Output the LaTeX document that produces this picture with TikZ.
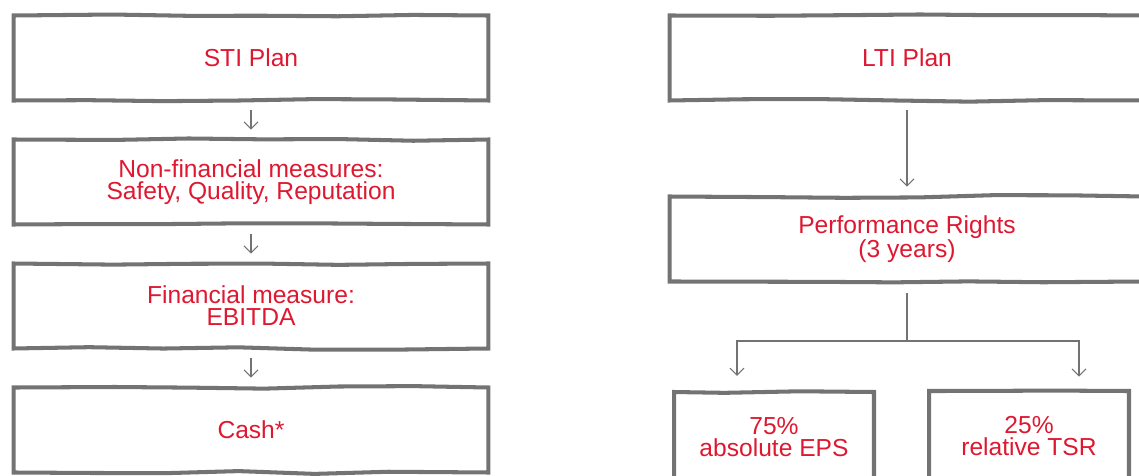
\documentclass[tikz,border=0pt]{standalone}
\usepackage{fontspec}
\setmainfont{Liberation Sans}
\usetikzlibrary{positioning, arrows.meta, decorations.pathmorphing}
\definecolor{sketchgray}{RGB}{115,115,115}
\definecolor{planred}{RGB}{222,24,48}
\pgfmathsetseed{7}

\begin{document}
\begin{tikzpicture}[x=0.02cm, y=-0.02cm, >={Straight Barb[length=4pt,width=8pt]},
  plan/.style={draw=sketchgray, line width=2.3pt, text=planred, align=center,
    font=\fontsize{14}{12.5}\selectfont, minimum width=9.5cm, minimum height=1.7cm,
    decorate, decoration={random steps, segment length=1.5cm, amplitude=0.8pt}},
  share/.style={plan, minimum width=4cm, minimum height=1.8cm},
  link/.style={draw=sketchgray, line width=0.6pt, shorten <=4.5pt, shorten >=4.5pt}]
  \useasboundingbox (0,0) rectangle (1139,476);

  % short-term plan
  \node[plan] (sti) at (251,58) {STI Plan};
  \node[plan] (nonfin) at (251,182) {Non-financial measures:\\Safety, Quality, Reputation};
  \node[plan] (fin) at (251,306) {Financial measure:\\EBITDA};
  \node[plan] (cash) at (251,430) {Cash*};
  \draw[link,->] (sti) -- (nonfin);
  \draw[link,->] (nonfin) -- (fin);
  \draw[link,->] (fin) -- (cash);

  % long-term plan
  \node[plan] (lti) at (907,58) {LTI Plan};
  \node[plan] (perf) at (907,239) {Performance Rights\\(3 years)};
  \node[share] (eps) at (774,437) {75\%\\absolute EPS};
  \node[share] (tsr) at (1029,436) {25\%\\relative TSR};
  \coordinate (split) at (907,341);
  \draw[link,->] (lti) -- (perf);
  \draw[link, shorten >=0pt, shorten <=5.5pt] (perf.south) -- (split);
  \draw[link,->, shorten <=0pt, shorten >=8pt] (split) -| ([xshift=-0.74cm]eps.north);
  \draw[link,->, shorten <=0pt, shorten >=7pt] (split) -| ([xshift=1cm]tsr.north);
\end{tikzpicture}
\end{document}
